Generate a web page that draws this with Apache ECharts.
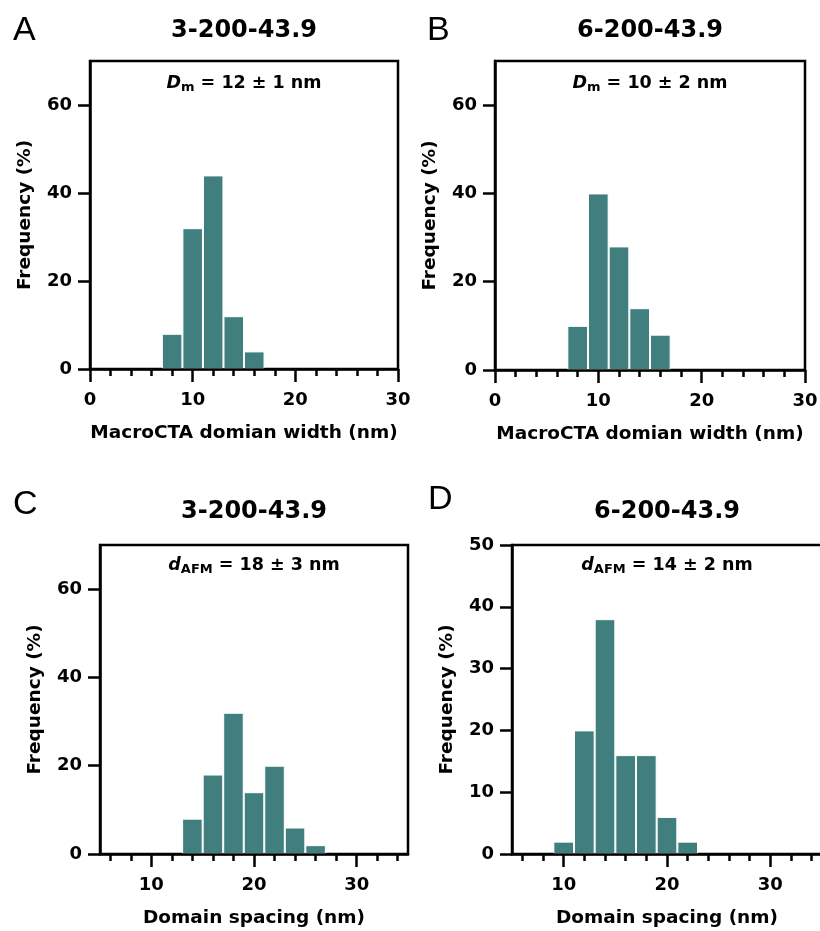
<!DOCTYPE html>
<html><head><meta charset="utf-8">
<script src="https://cdn.jsdelivr.net/npm/echarts@6/dist/echarts.min.js"></script>
<style>html,body{margin:0;padding:0;background:#fff}#c{width:820px;height:931px}</style>
</head><body><div id="c"></div>
<script>
// ---------- data ----------
const panelLetters = ['A', 'B', 'C', 'D'];
const panelTitles = ['3-200-43.9', '6-200-43.9', '3-200-43.9', '6-200-43.9'];
const xAxisTitles = ['MacroCTA domian width (nm)', 'MacroCTA domian width (nm)', 'Domain spacing (nm)', 'Domain spacing (nm)'];
const yAxisTitle = 'Frequency (%)';
const annoSymbols = ['D', 'D', 'd', 'd'];
const annoSubs = ['m', 'm', 'AFM', 'AFM'];
const annoValues = ['= 12 ± 1 nm', '= 10 ± 2 nm', '= 18 ± 3 nm', '= 14 ± 2 nm'];

const binsA = [8, 10, 12, 14, 16];
const freqA = [8, 32, 44, 12, 4];
const binsB = [8, 10, 12, 14, 16];
const freqB = [10, 40, 28, 14, 8];
const binsC = [14, 16, 18, 20, 22, 24, 26];
const freqC = [8, 18, 32, 14, 20, 6, 2];
const binsD = [10, 12, 14, 16, 18, 20, 22];
const freqD = [2, 20, 38, 16, 16, 6, 2];

const xRangeTop = [0, 30];
const xRangeBottom = [5, 35];
const xMajorTop = [0, 10, 20, 30];
const xMajorBottom = [10, 20, 30];
const xMinorBottom = [6, 8, 12, 14, 16, 18, 22, 24, 26, 28, 32, 34];
const yTicks70 = [0, 20, 40, 60];
const yTicks50 = [0, 10, 20, 30, 40, 50];

// ---------- styling / layout ----------
const FONT = '"DejaVu Sans", sans-serif';
const BAR = '#417f7e';
const LW = 2.5;
const grids = [
  { left: 90, top: 61, width: 308, height: 308 },
  { left: 495, top: 61, width: 310, height: 309 },
  { left: 100, top: 545, width: 308, height: 309 },
  { left: 512, top: 545, width: 310, height: 309 }
];
const letterPos = [[13, 31], [427, 31], [13, 505], [428, 500]];
const titleY = [31, 31, 512, 512];
const annoOffset = [22, 22, 20, 20];

const lineStyle = { color: '#000', width: LW };
const labelStyle = { color: '#000', fontFamily: FONT, fontWeight: 'bold', fontSize: 18 };
const nameStyle = { color: '#000', fontFamily: FONT, fontWeight: 'bold', fontSize: 18.5 };

const chart = echarts.init(document.getElementById('c'), null, { renderer: 'canvas' });

const xAxes = [];
const yAxes = [];
const series = [];
const bins = [binsA, binsB, binsC, binsD];
const freqs = [freqA, freqB, freqC, freqD];
const mainX = [];

for (let i = 0; i < 4; i++) {
  const top = i < 2;
  const range = top ? xRangeTop : xRangeBottom;
  mainX.push(xAxes.length);
  if (top) {
    xAxes.push({
      type: 'value', gridIndex: i, min: range[0], max: range[1], interval: 10,
      position: 'bottom', z: 5,
      axisLine: { show: true, onZero: false, lineStyle },
      axisTick: { show: true, length: 13, lineStyle },
      minorTick: { show: true, splitNumber: 5, length: 7, lineStyle },
      axisLabel: { margin: 22, ...labelStyle },
      splitLine: { show: false },
      name: xAxisTitles[i], nameLocation: 'middle', nameGap: 55, nameTextStyle: nameStyle
    });
  } else {
    xAxes.push({
      type: 'value', gridIndex: i, min: range[0], max: range[1],
      position: 'bottom', z: 5,
      axisLine: { show: true, onZero: false, lineStyle },
      axisTick: { show: true, length: 13, lineStyle, customValues: xMajorBottom },
      axisLabel: { margin: 22, ...labelStyle, customValues: xMajorBottom },
      splitLine: { show: false },
      name: xAxisTitles[i], nameLocation: 'middle', nameGap: 55, nameTextStyle: nameStyle
    });
    xAxes.push({
      type: 'value', gridIndex: i, min: range[0], max: range[1],
      position: 'bottom', z: 5,
      axisLine: { show: false },
      axisTick: { show: true, length: 7, lineStyle, customValues: xMinorBottom },
      axisLabel: { show: false },
      splitLine: { show: false }
    });
  }
  const yt = i === 3 ? yTicks50 : yTicks70;
  yAxes.push({
    type: 'value', gridIndex: i, min: 0, max: i === 3 ? 50 : 70,
    z: 5,
    axisLine: { show: true, onZero: false, lineStyle },
    axisTick: { show: true, length: 12, lineStyle, customValues: yt },
    axisLabel: { margin: 18, ...labelStyle, customValues: yt },
    splitLine: { show: false },
    name: yAxisTitle, nameLocation: 'middle', nameRotate: 90, nameGap: 55, nameTextStyle: nameStyle
  });
  series.push({
    type: 'bar', xAxisIndex: mainX[i], yAxisIndex: i,
    data: bins[i].map((b, k) => [b, freqs[i][k]]),
    barWidth: '100%',
    itemStyle: { color: BAR, borderColor: '#ffffff', borderWidth: 1 },
    emphasis: { disabled: true },
    silent: true, z: 2
  });
}

const graphic = [];
for (let i = 0; i < 4; i++) {
  const g = grids[i];
  const cx = g.left + g.width / 2;
  graphic.push({
    type: 'text', x: letterPos[i][0], y: letterPos[i][1],
    style: { text: panelLetters[i], fill: '#000', font: '34px "Liberation Sans", Arial, sans-serif', align: 'left', verticalAlign: 'middle' }
  });
  graphic.push({
    type: 'text', x: cx, y: titleY[i],
    style: { text: panelTitles[i], fill: '#000', font: 'bold 24px ' + FONT, align: 'center', verticalAlign: 'middle' }
  });
  graphic.push({
    type: 'text', x: cx, y: g.top + annoOffset[i],
    style: {
      text: '{it|' + annoSymbols[i] + '}{sub|' + annoSubs[i] + '}{val| ' + annoValues[i] + '}',
      align: 'center', verticalAlign: 'middle',
      rich: {
        it: { fill: '#000', fontFamily: FONT, fontWeight: 'bold', fontStyle: 'italic', fontSize: 17.5, lineHeight: 23 },
        sub: { fill: '#000', fontFamily: FONT, fontWeight: 'bold', fontSize: 13, verticalAlign: 'bottom' },
        val: { fill: '#000', fontFamily: FONT, fontWeight: 'bold', fontSize: 17.5, lineHeight: 23 }
      }
    }
  });
}

chart.setOption({
  animation: false,
  backgroundColor: '#ffffff',
  grid: grids.map(g => ({ ...g, show: true, borderColor: '#000', borderWidth: LW, backgroundColor: 'transparent', containLabel: false, outerBoundsMode: 'none' })),
  xAxis: xAxes,
  yAxis: yAxes,
  series: series,
  graphic: graphic
});
</script>
</body></html>
